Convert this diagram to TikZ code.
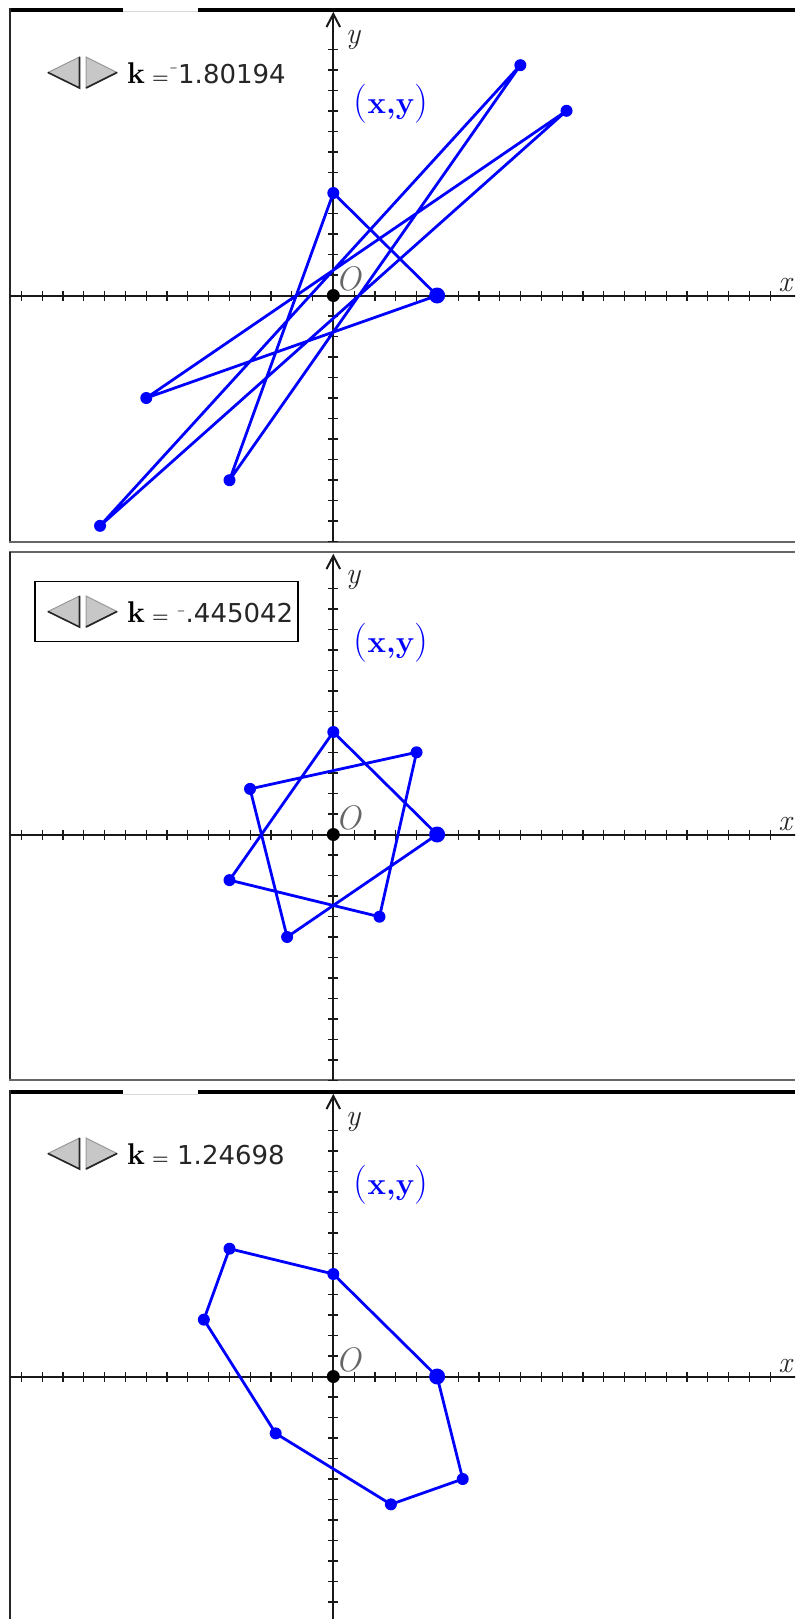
\documentclass[tikz,border=0pt]{standalone}
\usepackage{fontspec}
\newfontfamily\numfont{DejaVu Sans}
\definecolor{pblue}{RGB}{0,0,255}
\definecolor{axgray}{RGB}{25,25,25}
\tikzset{
  axisline/.style={line width=2pt, draw=axgray},
  tickmark/.style={line width=1.2pt, draw=axgray},
  poly/.style={line width=2.8pt, draw=pblue, line join=round},
  vdot/.style={circle, fill=pblue, inner sep=0pt, minimum size=12pt},
  bigdot/.style={circle, fill=pblue, inner sep=0pt, minimum size=16pt},
  odot/.style={circle, fill=black, inner sep=0pt, minimum size=13pt},
  axlabel/.style={font=\fontsize{30}{30}\selectfont\itshape, text=black!85, inner sep=0pt},
  olabel/.style={font=\fontsize{34}{34}\selectfont\itshape, text=black!60, inner sep=0pt},
  kstyle/.style={font=\fontsize{30}{30}\selectfont\bfseries, inner sep=0pt, anchor=base west},
  eqstyle/.style={font=\fontsize{19}{19}\selectfont\bfseries, text=black!90, inner sep=0pt, anchor=base},
  minusstyle/.style={font=\numfont\fontsize{16}{16}\selectfont, text=black!85, inner sep=0pt},
  numstyle/.style={font=\numfont\fontsize{26}{26}\selectfont, text=black!85, inner sep=0pt, anchor=base west},
  xylabel/.style={text=pblue, inner sep=0pt},
  thickborder/.style={line width=4.5pt, draw=black},
  thinborder/.style={line width=1.5pt, draw=black!60},
  leftborder/.style={line width=2pt, draw=black!85}
}
\newcommand{\panelaxes}[3]{% Oy, top, bottom
  \begin{scope}
    \clip (10,#2) rectangle (795,#3);
    \draw[axisline] (10,#1) -- (800,#1);
    \draw[axisline] (333.3,#3) -- (333.3,#2+4);
    \foreach \i in {-15,...,21} \draw[tickmark] (333.3+20.8*\i,#1-5) -- (333.3+20.8*\i,#1+5);
    \foreach \j in {-12,...,12} \draw[tickmark] (328.3,#1+20.5*\j) -- (338.3,#1+20.5*\j);
  \end{scope}
  \draw[axisline, line join=miter] (326.5,#2+17) -- (333.3,#2+4) -- (340.1,#2+17);
}
\newcommand{\slidertri}[1]{% center y
  \filldraw[fill=black!22, draw=black!40, line width=1pt] (48,#1) -- (79.5,#1-15.5) -- (79.5,#1+15.5) -- cycle;
  \draw[black!85, line width=1.6pt] (79.5,#1-15.5) -- (79.5,#1+15.5) -- (48,#1);
  \filldraw[fill=black!22, draw=black!40, line width=1pt] (86,#1-15.5) -- (117,#1) -- (86,#1+15.5) -- cycle;
  \draw[black!85, line width=1.6pt] (117,#1) -- (86,#1+15.5);
}
\newcommand{\xytext}{{\fontsize{39}{39}\selectfont(}{\fontsize{31}{31}\selectfont\bfseries x,y}{\fontsize{39}{39}\selectfont)}}
\begin{document}
\begin{tikzpicture}[x=1pt,y=-1pt]
\useasboundingbox (0,0) rectangle (795,1619);
\fill[white] (0,0) rectangle (795,1619);

% ---------- borders ----------
\draw[thickborder] (8.5,10) -- (123,10);
\draw[thickborder] (198,10) -- (795,10);
\draw[line width=1pt, black!15] (123,12) -- (198,12);
\draw[leftborder] (9.5,8) -- (9.5,542);
\draw[thinborder] (9,542) -- (795,542);

\draw[thinborder] (9,552) -- (795,552);
\draw[leftborder] (9.5,552) -- (9.5,1080);
\draw[thinborder] (9,1080) -- (795,1080);

\draw[thickborder] (8.5,1092) -- (123,1092);
\draw[thickborder] (198,1092) -- (795,1092);
\draw[line width=1pt, black!15] (123,1094) -- (198,1094);
\draw[leftborder] (9.5,1090) -- (9.5,1619);

% ---------- axes ----------
\panelaxes{295.5}{10}{542}
\panelaxes{834.5}{552}{1080}
\panelaxes{1376.5}{1092}{1619}

% ---------- panel 1 ----------
\begin{scope}[shift={(333.3,295.5)}, x=103.8pt, y=102.5pt]
  \coordinate (a0) at (1,0);
  \coordinate (a1) at (0,1);
  \coordinate (a2) at (-1,-1.80194);
  \coordinate (a3) at (1.80194,2.24698);
  \coordinate (a4) at (-2.24698,-2.24698);
  \coordinate (a5) at (2.24698,1.80194);
  \coordinate (a6) at (-1.80194,-1);
  \draw[poly] (a0) -- (a1) -- (a2) -- (a3) -- (a4) -- (a5) -- (a6) -- cycle;
  \node[odot] (aO) at (0,0) {};
  \foreach \n in {1,...,6} \node[vdot] (ad\n) at (a\n) {};
  \node[bigdot] (ad0) at (a0) {};
\end{scope}
\slidertri{72.5}
\node[kstyle] (ak) at (127,83.5) {k};
\node[eqstyle] (aeq) at (160.5,83.5) {=};
\node[minusstyle] (aminus) at (173.5,72) {⁻};
\node[numstyle] (anum) at (178,83.5) {1.80194};
\node[xylabel] (axy) at (391,103.5) {\xytext};
\node[axlabel] (aylab) at (353,40) {y};
\node[axlabel] (axlab) at (785,285) {x};
\node[olabel] (aolab) at (348,279) {O};

% ---------- panel 2 ----------
\begin{scope}[shift={(333.3,834.5)}, x=103.8pt, y=102.5pt]
  \coordinate (b0) at (1,0);
  \coordinate (b1) at (0,1);
  \coordinate (b2) at (-1,-0.445042);
  \coordinate (b3) at (0.445042,-0.801938);
  \coordinate (b4) at (0.801938,0.801938);
  \coordinate (b5) at (-0.801938,0.445042);
  \coordinate (b6) at (-0.445042,-1);
  \draw[poly] (b0) -- (b1) -- (b2) -- (b3) -- (b4) -- (b5) -- (b6) -- cycle;
  \node[odot] (bO) at (0,0) {};
  \foreach \n in {1,...,6} \node[vdot] (bd\n) at (b\n) {};
  \node[bigdot] (bd0) at (b0) {};
\end{scope}
\draw[line width=1.5pt, black] (35,581.7) rectangle (298,641.7);
\slidertri{611.5}
\node[kstyle] (bk) at (127,622.5) {k};
\node[eqstyle] (beq) at (160.5,622.5) {=};
\node[minusstyle] (bminus) at (181,615) {⁻};
\node[numstyle] (bnum) at (185.5,622.5) {.445042};
\node[xylabel] (bxy) at (391,642.5) {\xytext};
\node[axlabel] (bylab) at (353,580) {y};
\node[axlabel] (bxlab) at (785,824) {x};
\node[olabel] (bolab) at (348,818) {O};

% ---------- panel 3 ----------
\begin{scope}[shift={(333.3,1376.5)}, x=103.8pt, y=102.5pt]
  \coordinate (c0) at (1,0);
  \coordinate (c1) at (0,1);
  \coordinate (c2) at (-1,1.24698);
  \coordinate (c3) at (-1.24698,0.554958);
  \coordinate (c4) at (-0.554958,-0.554958);
  \coordinate (c5) at (0.554958,-1.24698);
  \coordinate (c6) at (1.24698,-1);
  \draw[poly] (c0) -- (c1) -- (c2) -- (c3) -- (c4) -- (c5) -- (c6) -- cycle;
  \node[odot] (cO) at (0,0) {};
  \foreach \n in {1,...,6} \node[vdot] (cd\n) at (c\n) {};
  \node[bigdot] (cd0) at (c0) {};
\end{scope}
\slidertri{1153.5}
\node[kstyle] (ck) at (127,1164.5) {k};
\node[eqstyle] (ceq) at (160.5,1164.5) {=};
\node[numstyle] (cnum) at (177,1164.5) {1.24698};
\node[xylabel] (cxy) at (391,1184.5) {\xytext};
\node[axlabel] (cylab) at (353,1122) {y};
\node[axlabel] (cxlab) at (785,1366) {x};
\node[olabel] (colab) at (348,1360) {O};
\end{tikzpicture}
\end{document}
